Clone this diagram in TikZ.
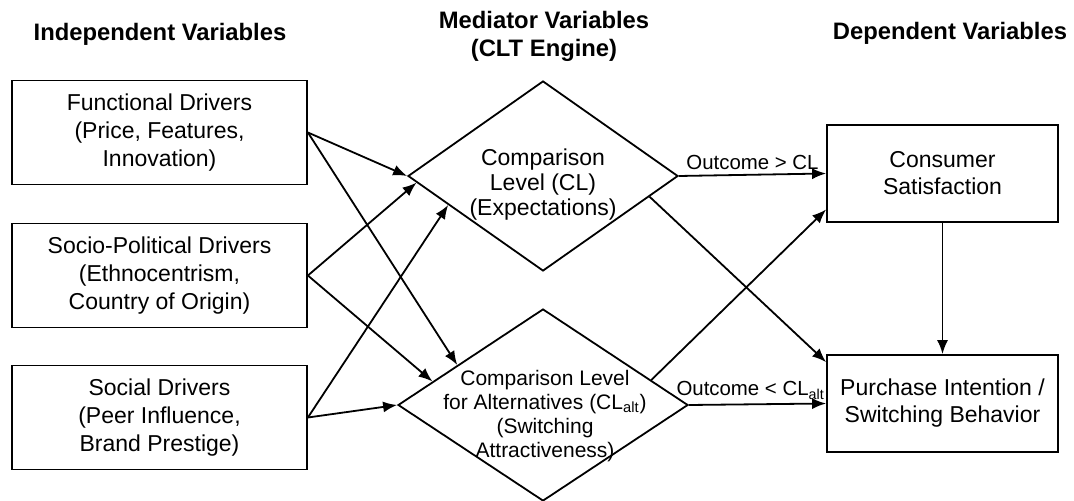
\documentclass[tikz,border=0pt]{standalone}
\usepackage{fontspec}
\setmainfont{Liberation Sans}
\usetikzlibrary{shapes.geometric,arrows.meta}

\tikzset{
  driver/.style={draw, line width=0.9pt, minimum width=147.5pt, minimum height=52pt,
    inner sep=0pt, align=center, font=\fontsize{11.5}{14.2}\selectfont},
  outbox/.style={draw, line width=0.9pt, minimum width=115.5pt, minimum height=48.5pt,
    inner sep=0pt, align=center, font=\fontsize{11.5}{13.5}\selectfont},
  engine/.style={draw, diamond, line width=0.9pt, inner sep=0pt},
  heading/.style={font=\bfseries\fontsize{11.9}{14}\selectfont, align=center},
  link/.style={-{Latex[length=7pt,width=5.5pt]}, line width=0.9pt},
  outlabel/.style={font=\fontsize{10.2}{12}\selectfont, above, inner sep=2pt},
}

\begin{document}
\begin{tikzpicture}[x=0.5pt,y=-0.5pt]
\useasboundingbox (0,0) rectangle (1074,501);

% headings
\node[heading] (indep) at (160,34) {Independent Variables};
\node[heading] (medi) at (544,36) {Mediator Variables\\(CLT Engine)};
\node[heading] (dep) at (950,33) {Dependent Variables};

% drivers
\node[driver] (func) at (159.5,132.5) {Functional Drivers\\(Price, Features,\\Innovation)};
\node[driver] (socio) at (159.5,275.5) {Socio-Political Drivers\\(Ethnocentrism,\\Country of Origin)};
\node[driver] (social) at (159.5,417.5) {Social Drivers\\(Peer Influence,\\Brand Prestige)};

% CLT engine
\node[engine, minimum width=135pt, minimum height=95pt] (cl) at (543,176) {};
\node[align=center, font=\fontsize{11.5}{12.5}\selectfont] (cltext) at (543,185)
  {Comparison\\Level (CL)\\(Expectations)};
\node[engine, minimum width=145pt, minimum height=96pt] (clalt) at (543,405) {};
\node[align=center, font=\fontsize{10.5}{12}\selectfont] (clalttext) at (545,416)
  {Comparison Level\\for Alternatives (CL\textsubscript{alt})\\(Switching\\Attractiveness)};

% outcomes
\node[outbox] (sat) at (942.5,173.5) {Consumer\\Satisfaction};
\node[outbox] (intent) at (942.5,403.5) {Purchase Intention /\\Switching Behavior};

% drivers -> engine
\draw[link] (func.east) -- (cl.west);
\draw[link] (func.east) -- (clalt.155);
\draw[link] (socio.east) -- (cl.183);
\draw[link] (socio.east) -- (clalt.168);
\draw[link] (social.east) -- (cl.197);
\draw[link] (social.east) -- (clalt.west);

% engine -> outcomes
\draw[link] (cl.east) -- node[outlabel] (gtlabel) {Outcome > CL} (sat.west);
\draw[link] (clalt.13) -- ([yshift=-18pt]sat.west);
\draw[link] (cl.-11) -- ([yshift=-4pt]intent.north west);
\draw[link] (clalt.east) -- node[outlabel, pos=0.45] (ltlabel) {Outcome < CL\textsubscript{alt}} (intent.west);
\draw[link] (sat.south) -- (intent.north);
\end{tikzpicture}
\end{document}
